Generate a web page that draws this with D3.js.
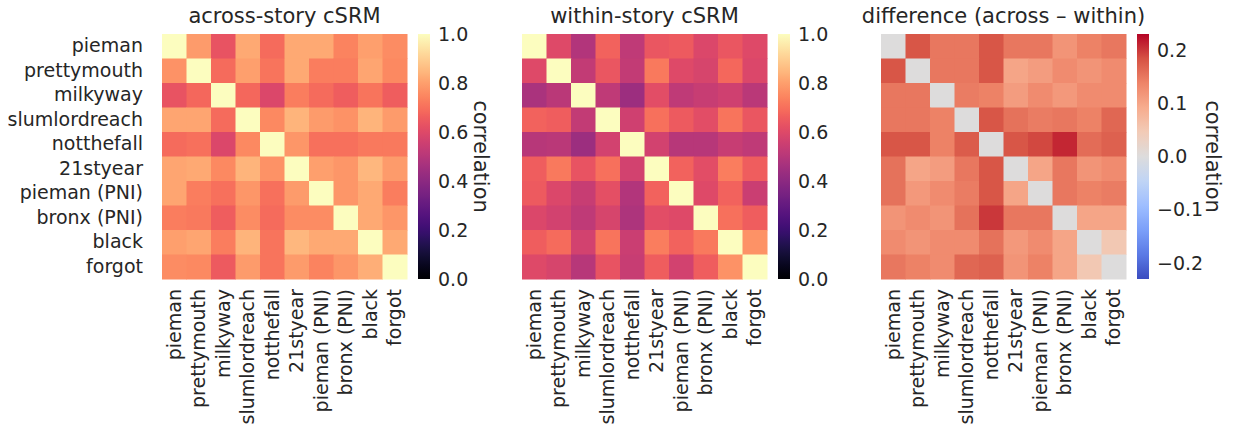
<!DOCTYPE html>
<html>
<head>
<meta charset="utf-8">
<script src="https://cdn.jsdelivr.net/npm/d3@7"></script>
<style>
  body { margin: 0; background: #fff; }
  text { font-family: "DejaVu Sans", sans-serif; fill: #262626; }
</style>
</head>
<body>
<div id="chart"></div>
<script>
// stories (row / column labels)
const stories = ["pieman", "prettymouth", "milkyway", "slumlordreach", "notthefall",
  "21styear", "pieman (PNI)", "bronx (PNI)", "black", "forgot"];

// across-story cSRM correlations
const acrossVals = [
  [1.00, 0.79, 0.63, 0.82, 0.69, 0.82, 0.82, 0.74, 0.80, 0.76],
  [0.77, 1.00, 0.69, 0.80, 0.71, 0.82, 0.73, 0.73, 0.81, 0.75],
  [0.63, 0.68, 1.00, 0.68, 0.59, 0.73, 0.69, 0.66, 0.71, 0.66],
  [0.81, 0.81, 0.69, 1.00, 0.75, 0.84, 0.79, 0.77, 0.84, 0.79],
  [0.69, 0.70, 0.59, 0.75, 1.00, 0.78, 0.70, 0.70, 0.72, 0.72],
  [0.81, 0.82, 0.75, 0.84, 0.77, 1.00, 0.80, 0.78, 0.85, 0.79],
  [0.81, 0.73, 0.70, 0.78, 0.70, 0.79, 1.00, 0.78, 0.82, 0.73],
  [0.73, 0.72, 0.66, 0.76, 0.69, 0.76, 0.76, 1.00, 0.82, 0.78],
  [0.80, 0.81, 0.73, 0.84, 0.71, 0.85, 0.82, 0.82, 1.00, 0.82],
  [0.76, 0.75, 0.65, 0.79, 0.71, 0.79, 0.74, 0.78, 0.83, 1.00]
];

// within-story cSRM correlations
const withinVals = [
  [1.00, 0.60, 0.49, 0.67, 0.52, 0.64, 0.65, 0.59, 0.64, 0.60],
  [0.60, 1.00, 0.53, 0.64, 0.53, 0.72, 0.60, 0.58, 0.68, 0.59],
  [0.47, 0.51, 1.00, 0.52, 0.44, 0.61, 0.52, 0.54, 0.56, 0.51],
  [0.67, 0.66, 0.53, 1.00, 0.56, 0.70, 0.65, 0.61, 0.71, 0.64],
  [0.50, 0.51, 0.44, 0.57, 1.00, 0.57, 0.50, 0.50, 0.54, 0.52],
  [0.66, 0.72, 0.63, 0.70, 0.57, 1.00, 0.67, 0.61, 0.73, 0.66],
  [0.65, 0.59, 0.54, 0.62, 0.49, 0.67, 1.00, 0.60, 0.67, 0.55],
  [0.59, 0.57, 0.52, 0.58, 0.48, 0.61, 0.60, 1.00, 0.70, 0.66],
  [0.66, 0.69, 0.57, 0.71, 0.55, 0.73, 0.67, 0.72, 1.00, 0.77],
  [0.60, 0.58, 0.50, 0.63, 0.54, 0.66, 0.57, 0.66, 0.77, 1.00]
];

// difference (across - within)
const diffVals = [
  [0.00, 0.18, 0.15, 0.15, 0.18, 0.15, 0.15, 0.12, 0.14, 0.15],
  [0.18, 0.00, 0.15, 0.15, 0.18, 0.10, 0.11, 0.13, 0.12, 0.13],
  [0.15, 0.15, 0.00, 0.145, 0.14, 0.11, 0.13, 0.115, 0.13, 0.13],
  [0.15, 0.15, 0.14, 0.00, 0.18, 0.155, 0.145, 0.15, 0.14, 0.165],
  [0.18, 0.18, 0.14, 0.175, 0.00, 0.18, 0.19, 0.21, 0.16, 0.17],
  [0.155, 0.10, 0.11, 0.15, 0.18, 0.00, 0.10, 0.15, 0.12, 0.13],
  [0.155, 0.115, 0.13, 0.145, 0.18, 0.10, 0.00, 0.15, 0.14, 0.145],
  [0.12, 0.13, 0.12, 0.155, 0.20, 0.15, 0.15, 0.00, 0.10, 0.10],
  [0.13, 0.12, 0.13, 0.13, 0.155, 0.115, 0.13, 0.10, 0.00, 0.05],
  [0.15, 0.14, 0.13, 0.165, 0.17, 0.12, 0.14, 0.10, 0.05, 0.00]
];

// colorbar ticks
const corrTicks = [0.0, 0.2, 0.4, 0.6, 0.8, 1.0];
const diffTicks = [-0.2, -0.1, 0.0, 0.1, 0.2];

// matplotlib coolwarm, 11 stops
const coolwarm = ["#3b4cc0", "#5b7ae5", "#7b9ff9", "#9ebeff", "#c0d4f5", "#dddcdc",
  "#f2cbb7", "#f7ac8e", "#ee8468", "#d65244", "#b40426"];

const W = 1236, H = 439;
const topY = 34, size = 245, cbGap = 11, cbW = 12;

const svg = d3.select("#chart").append("svg")
  .attr("width", W).attr("height", H);
svg.append("rect").attr("width", W).attr("height", H).attr("fill", "#fff");

const magma = d3.scaleSequential(d3.interpolateMagma).domain([0, 1]);
const dmax = 0.23;
const cw = d3.scaleLinear()
  .domain(d3.range(coolwarm.length).map(i => -dmax + 2 * dmax * i / (coolwarm.length - 1)))
  .range(coolwarm)
  .interpolate(d3.interpolateRgb)
  .clamp(true);

const panels = [
  {id: "across", left: 162, title: "across-story cSRM", vals: acrossVals, color: magma,
    domain: [0, 1], ticks: corrTicks, ylabels: true, cblabel: true},
  {id: "within", left: 522, title: "within-story cSRM", vals: withinVals, color: magma,
    domain: [0, 1], ticks: corrTicks, ylabels: false, cblabel: false},
  {id: "diff", left: 881, title: "difference (across \u2013 within)", vals: diffVals, color: cw,
    domain: [-dmax, dmax], ticks: diffTicks, ylabels: false, cblabel: true}
];

const defs = svg.append("defs");

panels.forEach(p => {
  const x = d3.scaleBand().domain(stories).range([p.left, p.left + size]);
  const y = d3.scaleBand().domain(stories).range([topY, topY + size]);
  const g = svg.append("g");

  // cells
  const cells = [];
  p.vals.forEach((row, i) => row.forEach((v, j) => cells.push({r: stories[i], c: stories[j], v})));
  g.selectAll("rect.cell")
    .data(cells)
    .join("rect")
      .attr("class", "cell")
      .attr("x", d => x(d.c))
      .attr("y", d => y(d.r))
      .attr("width", x.bandwidth() + 0.5)
      .attr("height", y.bandwidth() + 0.5)
      .attr("fill", d => p.color(d.v));

  // title
  g.append("text")
    .attr("x", p.left + size / 2)
    .attr("y", topY - 11)
    .attr("text-anchor", "middle")
    .style("font-size", "21px")
    .text(p.title);

  // x labels
  const xa = g.append("g")
    .attr("transform", `translate(0,${topY + size})`)
    .call(d3.axisBottom(x).tickSize(0).tickPadding(10));
  xa.select(".domain").remove();
  xa.selectAll("text")
    .style("font-size", "19px")
    .style("font-family", "DejaVu Sans, sans-serif")
    .attr("fill", "#262626")
    .attr("text-anchor", "end")
    .attr("transform", "rotate(-90)")
    .attr("x", -10)
    .attr("y", 0)
    .attr("dy", "0.35em");

  // y labels
  if (p.ylabels) {
    const ya = g.append("g")
      .attr("transform", `translate(${p.left},0)`)
      .call(d3.axisLeft(y).tickSize(0).tickPadding(19));
    ya.select(".domain").remove();
    ya.selectAll("text")
      .style("font-size", "19px")
      .style("font-family", "DejaVu Sans, sans-serif")
      .attr("fill", "#262626");
  }

  // colorbar
  const cbX = p.left + size + cbGap;
  const cbScale = d3.scaleLinear().domain(p.domain).range([topY + size, topY]);
  const grad = defs.append("linearGradient")
    .attr("id", "grad-" + p.id)
    .attr("x1", 0).attr("y1", 1).attr("x2", 0).attr("y2", 0);
  d3.range(0, 1.0001, 0.02).forEach(t => {
    const v = p.domain[0] + t * (p.domain[1] - p.domain[0]);
    grad.append("stop").attr("offset", t).attr("stop-color", p.color(v));
  });
  g.append("rect")
    .attr("x", cbX).attr("y", topY)
    .attr("width", cbW).attr("height", size)
    .attr("fill", `url(#grad-${p.id})`);

  const ca = g.append("g")
    .attr("transform", `translate(${cbX + cbW},0)`)
    .call(d3.axisRight(cbScale).tickValues(p.ticks).tickFormat(d3.format(".1f")).tickSize(0).tickPadding(8));
  ca.select(".domain").remove();
  ca.selectAll("text")
    .style("font-size", "19px")
    .style("font-family", "DejaVu Sans, sans-serif")
    .attr("fill", "#262626");

  if (p.cblabel) {
    const lx = p.id === "diff" ? cbX + cbW + 64 : cbX + cbW + 51;
    g.append("text")
      .attr("transform", `translate(${lx},${topY + size / 2}) rotate(90)`)
      .attr("text-anchor", "middle")
      .attr("dy", "0.35em")
      .style("font-size", "21px")
      .text("correlation");
  }
});
</script>
</body>
</html>
